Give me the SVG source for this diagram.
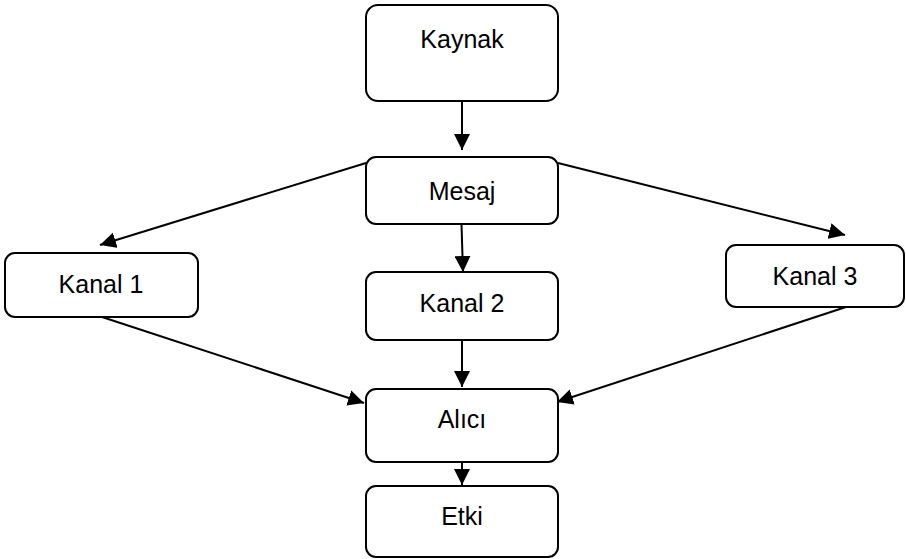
<svg xmlns="http://www.w3.org/2000/svg" width="906" height="559" viewBox="0 0 906 559">
<style>
.box{fill:#fff;stroke:#000;stroke-width:2}
.lbl{font-family:"Liberation Sans",Arial,sans-serif;font-size:25px;fill:#000;text-anchor:middle}
.con{stroke:#000;stroke-width:2;fill:none;marker-end:url(#ah)}
</style>
<defs>
<marker id="ah" viewBox="0 0 16 16" refX="16" refY="8" markerWidth="16" markerHeight="16" markerUnits="userSpaceOnUse" orient="auto">
<path d="M0,0 L16,8 L0,16 Z" fill="#000"/>
</marker>
</defs>
<rect width="906" height="559" fill="#fff"/>
<g id="connectors">
<line class="con" x1="462" y1="101" x2="462" y2="150"/>
<line class="con" x1="366" y1="163" x2="100" y2="245"/>
<line class="con" x1="558" y1="163" x2="845" y2="235"/>
<line class="con" x1="461.5" y1="224" x2="463" y2="272"/>
<line class="con" x1="102" y1="317" x2="364" y2="403"/>
<line class="con" x1="462" y1="340" x2="462" y2="387"/>
<line class="con" x1="846" y1="307" x2="557" y2="402"/>
<line class="con" x1="462" y1="462" x2="462" y2="485"/>
</g>
<g id="kaynak"><rect class="box" x="366" y="5" width="192" height="96" rx="12"/><text class="lbl" x="462" y="48">Kaynak</text></g>
<g id="mesaj"><rect class="box" x="366" y="157" width="192" height="67" rx="10"/><text class="lbl" x="462" y="200">Mesaj</text></g>
<g id="kanal1"><rect class="box" x="5" y="253" width="193" height="64" rx="10"/><text class="lbl" x="101" y="293">Kanal 1</text></g>
<g id="kanal2"><rect class="box" x="366" y="272" width="192" height="68" rx="10"/><text class="lbl" x="462" y="312">Kanal 2</text></g>
<g id="kanal3"><rect class="box" x="726" y="245" width="178" height="62" rx="10"/><text class="lbl" x="815" y="285">Kanal 3</text></g>
<g id="alici"><rect class="box" x="366" y="389" width="192" height="73" rx="10"/><text class="lbl" x="462" y="428">Alıcı</text></g>
<g id="etki"><rect class="box" x="366" y="486" width="192" height="71" rx="10"/><text class="lbl" x="462" y="525">Etki</text></g>
</svg>
